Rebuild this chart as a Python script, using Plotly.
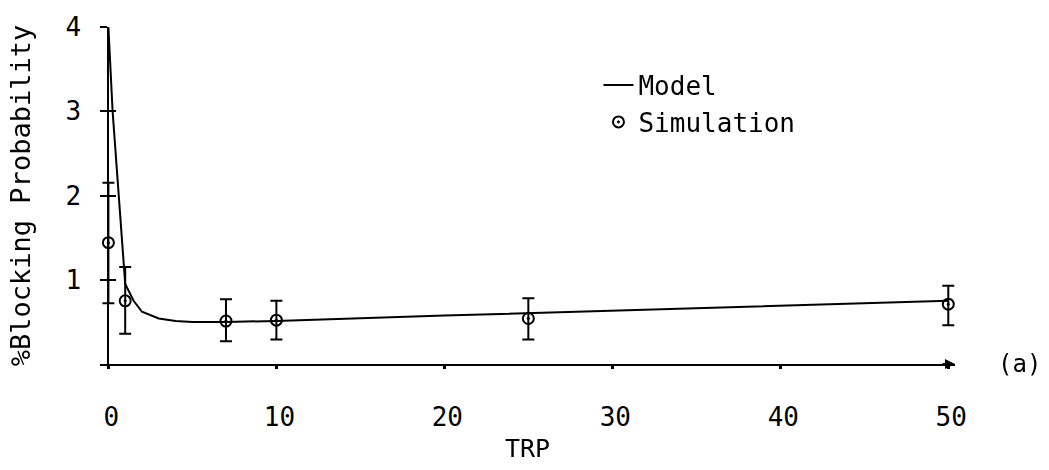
import plotly.graph_objects as go

# Model curve (TRP, %blocking probability)
model_trp = [0, 0.25, 1.0, 1.5, 2, 3, 4, 5, 7, 10, 20, 50]
model_val = [4.0, 3.0, 0.95, 0.75, 0.62, 0.54, 0.51, 0.50, 0.50, 0.51, 0.575, 0.75]

# Simulation points with error bars
sim_trp = [0, 1, 7, 10, 25, 50]
sim_val = [1.44, 0.75, 0.51, 0.52, 0.54, 0.71]
sim_hi = [2.15, 1.15, 0.77, 0.75, 0.78, 0.93]
sim_lo = [0.72, 0.36, 0.27, 0.29, 0.29, 0.46]

x_ticks = [0, 10, 20, 30, 40, 50]
y_ticks = [1, 2, 3, 4]

X_MIN, X_MAX = -0.5, 50.4
Y_AXIS_POS = (0 - X_MIN) / (X_MAX - X_MIN)

FONT = "DejaVu Sans Mono, monospace"

err_plus = [h - v for h, v in zip(sim_hi, sim_val)]
err_minus = [v - l for v, l in zip(sim_val, sim_lo)]

fig = go.Figure()
fig.add_trace(go.Scatter(
    x=model_trp, y=model_val, mode="lines", name="Model",
    line=dict(color="black", width=2), cliponaxis=False,
))
fig.add_trace(go.Scatter(
    x=sim_trp, y=sim_val, mode="markers", name="Simulation",
    marker=dict(symbol="circle-open-dot", size=11, color="black",
                line=dict(width=2, color="black")),
    error_y=dict(type="data", symmetric=False, array=err_plus, arrayminus=err_minus,
                 color="black", thickness=2, width=6),
    cliponaxis=False,
))
# invisible helper so the overlaid tick axis (inner half of the crossing y ticks) is drawn
fig.add_trace(go.Scatter(
    x=sim_trp, y=sim_val, yaxis="y2", mode="markers", opacity=0,
    showlegend=False, hoverinfo="skip",
))

fig.update_layout(
    width=1049, height=470,
    margin=dict(l=100, r=94, t=22, b=103),
    paper_bgcolor="white", plot_bgcolor="white",
    font=dict(family=FONT, size=26, color="black"),
    showlegend=True,
    legend=dict(x=0.583, y=0.897, xanchor="left", yanchor="top",
                bgcolor="rgba(0,0,0,0)", font=dict(size=26),
                itemwidth=30, tracegroupgap=0),
    xaxis=dict(range=[X_MIN, X_MAX], tickvals=x_ticks, ticktext=[str(t) for t in x_ticks],
               showline=True, linecolor="black", linewidth=2,
               ticks="outside", ticklen=3, tickwidth=3, tickcolor="black",
               ticklabelstandoff=26, ticklabelshift=3,
               showgrid=False, zeroline=False,
               title=dict(text="TRP", standoff=8, font=dict(size=25))),
    yaxis=dict(range=[0, 4], tickvals=y_ticks, ticktext=[str(t) for t in y_ticks],
               anchor="free", position=Y_AXIS_POS,
               showline=True, linecolor="black", linewidth=2,
               ticks="outside", ticklen=7, tickwidth=2, tickcolor="black",
               ticklabelstandoff=14,
               showgrid=False, zeroline=False,
               title=dict(text="%Blocking Probability", standoff=26, font=dict(size=27))),
    yaxis2=dict(range=[0, 4], overlaying="y", side="left", tickvals=y_ticks,
                anchor="free", position=Y_AXIS_POS,
                ticks="inside", ticklen=7, tickwidth=2, tickcolor="black",
                showticklabels=False, showgrid=False, zeroline=False, showline=False),
)

fig.add_annotation(x=1.0, y=0, xref="x domain", yref="y", ax=-14, ay=0,
                   showarrow=True, arrowhead=2, arrowsize=1, arrowwidth=2,
                   arrowcolor="black", text="")
fig.add_annotation(x=1.075, y=0, xref="x domain", yref="y", text="(a)",
                   showarrow=False, font=dict(size=24), xanchor="center")

fig.write_html("out.html")
